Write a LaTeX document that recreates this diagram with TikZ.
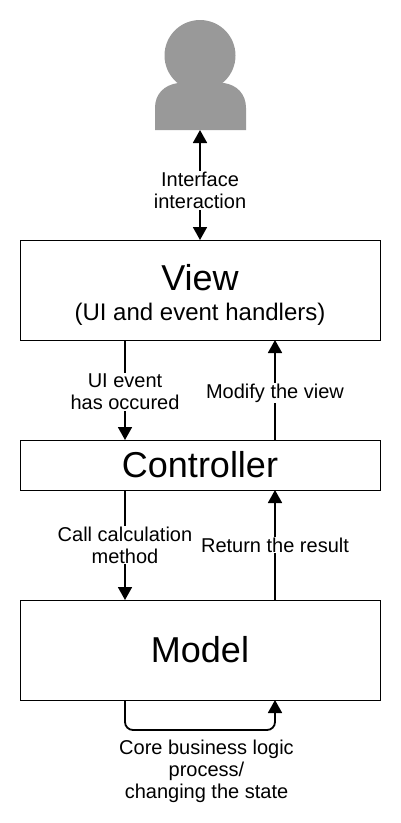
\documentclass[tikz,border=0pt]{standalone}
\usepackage{fontspec}
\setmainfont{Liberation Sans}
\usetikzlibrary{positioning, arrows.meta}

\begin{document}
\begin{tikzpicture}[
    x=1pt, y=1pt,
    box/.style={
        draw,
        line width=1pt,
        minimum width=360pt,
        outer sep=0pt,
        align=center
    },
    arrow/.style={
        -{Stealth[length=13pt, width=14pt, inset=0pt]},
        line width=1.8pt
    },
    botharrow/.style={
        arrow,
        {Stealth[length=13pt, width=14pt, inset=0pt]}-{Stealth[length=13pt, width=14pt, inset=0pt]}
    },
    lbl/.style={
        fill=white,
        inner sep=1pt,
        align=center,
        font=\fontsize{20}{22}\selectfont
    },
    bigtext/.style={
        font=\fontsize{36}{40}\selectfont
    }
]
\useasboundingbox (0,0) rectangle (400,-823);

% User figure
\fill [black!40] (200,-55.5) circle (35.5);
\fill [black!40] (155,-130) -- (155,-108) .. controls (155,-94) and (164,-85) .. (178,-83)
    -- (224,-83) .. controls (237,-85) and (246,-94) .. (246,-108) -- (246,-130) -- cycle;
\coordinate (user) at (200,-130);

% Boxes
\node (view) [box, minimum height=100pt] at (200,-290) {{\fontsize{36}{40}\selectfont \rule{0pt}{36pt}View}\\[11pt] {\fontsize{24}{28}\selectfont (UI and event handlers)}};
\node (ctrl) [box, bigtext, minimum height=50pt, below=100pt of view] {Controller};
\node (model) [box, bigtext, minimum height=100pt, below=110pt of ctrl] {Model};

% User and view
\draw [botharrow] (user) -- (view.north) node (ifaceLbl) [lbl, pos=0.55] {Interface\\interaction};

% View and controller
\draw [arrow] ([xshift=-75pt]view.south) -- ([xshift=-75pt]ctrl.north) node (eventLbl) [lbl, pos=0.52] {UI event\\has occured};
\draw [arrow] ([xshift=75pt]ctrl.north) -- ([xshift=75pt]view.south) node (modifyLbl) [lbl, pos=0.47] {Modify the view};

% Controller and model
\draw [arrow] ([xshift=-75pt]ctrl.south) -- ([xshift=-75pt]model.north) node (callLbl) [lbl, midway] {Call calculation\\method};
\draw [arrow] ([xshift=75pt]model.north) -- ([xshift=75pt]ctrl.south) node (returnLbl) [lbl, midway] {Return the result};

% Loop under the model
\draw [arrow, rounded corners=8pt] ([xshift=-75pt]model.south) -- ++(0,-30) -| ([xshift=75pt]model.south);
\node (coreLbl) [lbl, below=39pt of model, xshift=6.5pt] {Core business logic\\process/\\changing the state};

\end{tikzpicture}
\end{document}
